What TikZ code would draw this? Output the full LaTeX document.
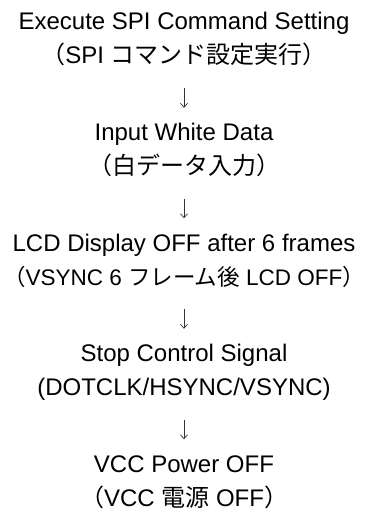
\documentclass[tikz,border=0pt]{standalone}
\usepackage{fontspec}
\setmainfont{Liberation Sans}
\newfontfamily\jpfont{Noto Sans CJK JP}
\usetikzlibrary{arrows.meta}
\begin{document}
\begin{tikzpicture}[x=1pt,y=1pt]
  \tikzset{en/.style={anchor=base, inner sep=0pt, text height=17pt, text depth=5pt, font=\fontsize{24}{28}\selectfont},
           jp/.style={anchor=base, inner sep=0pt, text height=17pt, text depth=0pt, font=\fontsize{24}{28}\selectfont},
           flow/.style={-{Straight Barb[length=4pt,width=7pt]}, line width=0.7pt, black!80, shorten <=24pt, shorten >=15.5pt}};
  \useasboundingbox (0,0) rectangle (368,-516);

  \node[en] (e1) at (184,-30) {Execute SPI Command Setting};
  \node[jp] (j1) at (184,-64) {{\jpfont （}SPI {\jpfont コマンド設定実行）}};

  \node[en] (e2) at (184,-140.5) {Input White Data};
  \node[jp] (j2) at (184,-174.5) {\jpfont （白データ入力）};

  \node[en] (e3) at (184,-251) {LCD Display OFF after 6 frames};
  % a bit smaller, or it runs past the edges
  \node[jp, font=\fontsize{22.5}{28}\selectfont] (j3) at (184,-285) {{\jpfont （}VSYNC 6 {\jpfont フレーム後} LCD OFF{\jpfont ）}};

  \node[en] (e4) at (184,-361.5) {Stop Control Signal};
  \node[jp] (j4) at (184,-395.5) {(DOTCLK/HSYNC/VSYNC)};

  \node[en] (e5) at (184,-472) {VCC Power OFF};
  \node[jp] (j5) at (184,-506) {{\jpfont （}VCC {\jpfont 電源} OFF{\jpfont ）}};

  \draw[flow] (j1) -- (e2);
  \draw[flow] (j2) -- (e3);
  \draw[flow] (j3) -- (e4);
  \draw[flow] (j4) -- (e5);
\end{tikzpicture}
\end{document}
